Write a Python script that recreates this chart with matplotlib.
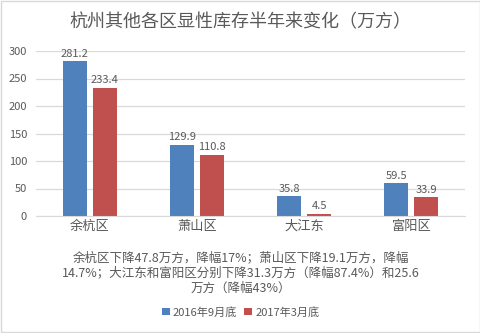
import matplotlib.pyplot as plt
import numpy as np
from matplotlib.patches import Rectangle

plt.rcParams['font.family'] = ['Noto Sans CJK SC', 'DejaVu Sans']

districts = ['余杭区', '萧山区', '大江东', '富阳区']
sep_2016 = [281.2, 129.9, 35.8, 59.5]
mar_2017 = [233.4, 110.8, 4.5, 33.9]
series_names = ['2016年9月底', '2017年3月底']
note = ('余杭区下降47.8万方，降幅17%；萧山区下降19.1万方，降幅\n'
        '14.7%；大江东和富阳区分别下降31.3万方（降幅87.4%）和25.6\n'
        '万方（降幅43%）')

blue = '#4f81bd'
red = '#c0504d'
gray = '#595959'

fig = plt.figure(figsize=(4.81, 3.33), dpi=100)
ax = fig.add_axes([36/481, 1 - 216/333, 429/481, 165/333])

x = np.arange(len(districts))
w = 0.225
off = 0.14
b1 = ax.bar(x - off, sep_2016, w, color=blue, label=series_names[0])
b2 = ax.bar(x + off, mar_2017, w, color=red, label=series_names[1])

for bars, vals in [(b1, sep_2016), (b2, mar_2017)]:
    for b, v in zip(bars, vals):
        ax.text(b.get_x() + b.get_width() / 2, v + 5, f'{v:.1f}',
                ha='center', va='bottom', fontsize=8, color=gray)

ax.set_xlim(-0.5, 3.5)
ax.set_ylim(0, 300)
ax.set_yticks(range(0, 301, 50))
ax.set_xticks(x)
ax.set_xticklabels(districts, fontsize=9.5, color=gray)
ax.tick_params(axis='y', labelsize=8, labelcolor=gray, length=0, pad=6.5)
ax.tick_params(axis='x', length=0, pad=3)
ax.grid(axis='y', color='#d9d9d9', linewidth=0.9)
ax.set_axisbelow(True)
for s in ['top', 'right', 'left']:
    ax.spines[s].set_visible(False)
ax.spines['bottom'].set_color('#d9d9d9')

fig.text(0.5, 1 - 22/333, '杭州其他各区显性库存半年来变化（万方）',
         ha='center', va='center', fontsize=13, color=gray)
fig.text(0.5, 1 - 273/333, note, ha='center', va='center',
         fontsize=9, color=gray, linespacing=1.25)

fig.legend(loc='center', bbox_to_anchor=(0.5, 1 - 312/333), ncol=2,
           frameon=False, fontsize=8, handlelength=0.7, handleheight=0.7,
           handletextpad=0.3, columnspacing=0.6, labelcolor=gray)

fig.patches.append(Rectangle((0.002, 0.003), 0.995, 0.994, transform=fig.transFigure,
                             fill=False, edgecolor='#d9d9d9', linewidth=1))

fig.savefig('out.png', dpi=100)
